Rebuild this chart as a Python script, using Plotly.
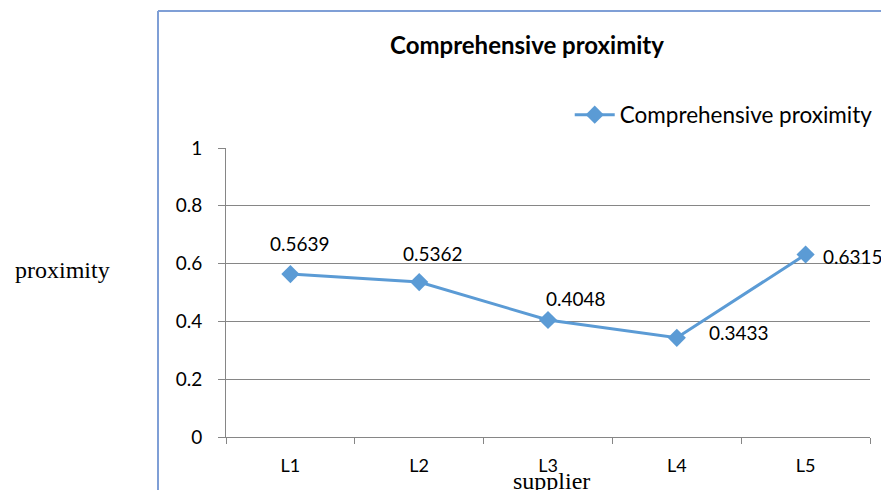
import plotly.graph_objects as go

categories = ["L1", "L2", "L3", "L4", "L5"]
values = [0.5639, 0.5362, 0.4048, 0.3433, 0.6315]
labels = ["0.5639", "0.5362", "0.4048", "0.3433", "0.6315"]
series_name = "Comprehensive proximity"
y_ticks = [0, 0.2, 0.4, 0.6, 0.8, 1]
y_tick_text = ["0", "0.2", "0.4", "0.6", "0.8", "1"]

# label offsets in pixels (style, not data)
label_shift = [(10, 31), (14, 29), (28, 22), (62, 5), (47, -2)]

# target picture geometry (reference pixels)
W, H = 889, 490
OFF = 8  # page body margin of the browser
PL, PR, PT, PB = 226, 870, 148, 437  # plot area in reference pixels
pw, ph = PR - PL, PB - PT

FW, FH = W - OFF, H - OFF
ML, MT = PL - OFF, PT - OFF
MR = FW - (PR - OFF)
MB = FH - (PB - OFF)

blue = "#5B9BD5"
grid = "#868686"
font_main = "Lato, 'Open Sans', Arial, sans-serif"
font_serif = "'Liberation Serif', 'Times New Roman', serif"

fig = go.Figure()
fig.add_trace(go.Scatter(
    x=categories, y=values, mode="lines+markers", name=series_name,
    line=dict(color=blue, width=3),
    marker=dict(symbol="diamond", size=14, color=blue),
))

for c, v, t, (dx, dy) in zip(categories, values, labels, label_shift):
    fig.add_annotation(x=c, y=v, text=t, showarrow=False, xshift=dx, yshift=dy,
                       font=dict(family=font_main, size=19, color="#000000"))

def px_x(p):
    return (p - PL) / pw

def px_y(p):
    return (PB - p) / ph

# outer chart border (left and top)
fig.add_shape(type="line", xref="paper", yref="paper",
              x0=px_x(158), x1=px_x(158), y0=px_y(11), y1=px_y(H + 20),
              line=dict(color="#7F9FD6", width=2))
fig.add_shape(type="line", xref="paper", yref="paper",
              x0=px_x(158), x1=px_x(W + 20), y0=px_y(11), y1=px_y(11),
              line=dict(color="#7F9FD6", width=2))

# axis titles
fig.add_annotation(xref="paper", yref="paper", x=px_x(62), y=px_y(270),
                   xanchor="center", yanchor="middle",
                   text="proximity", showarrow=False,
                   font=dict(family=font_serif, size=24, color="#000000"))
fig.add_annotation(xref="paper", yref="paper", x=px_x(551), y=px_y(481),
                   xanchor="center", yanchor="middle",
                   text="supplier", showarrow=False,
                   font=dict(family=font_serif, size=24, color="#000000"))

fig.update_layout(
    width=FW, height=FH,
    margin=dict(l=ML, r=MR, t=MT, b=MB, autoexpand=False),
    paper_bgcolor="white", plot_bgcolor="white",
    title=dict(text="<b>Comprehensive proximity</b>", x=(527 - OFF) / FW,
               y=1 - (46 - OFF) / FH,
               xanchor="center", yanchor="middle",
               font=dict(family=font_main, size=24, color="#000000")),
    showlegend=True,
    legend=dict(x=1.012, xanchor="right", y=px_y(115), yanchor="middle",
                font=dict(family=font_main, size=22.5, color="#000000"),
                bgcolor="rgba(0,0,0,0)", borderwidth=0,
                itemwidth=40),
    xaxis=dict(type="category", range=[-0.5, 4.5], showgrid=False,
               showline=True, linecolor=grid, linewidth=1,
               ticks="outside", ticklen=6, tickcolor=grid,
               tickson="boundaries", ticklabelstandoff=12,
               tickfont=dict(family=font_main, size=18, color="#000000"),
               zeroline=False),
    yaxis=dict(range=[0, 1], tickvals=y_ticks, ticktext=y_tick_text,
               showgrid=True, gridcolor=grid, gridwidth=1,
               showline=True, linecolor=grid, linewidth=1,
               ticks="outside", ticklen=7, tickcolor=grid,
               ticklabelstandoff=12,
               tickfont=dict(family=font_main, size=19, color="#000000"),
               zeroline=False),
)

fig.write_html("out.html")
